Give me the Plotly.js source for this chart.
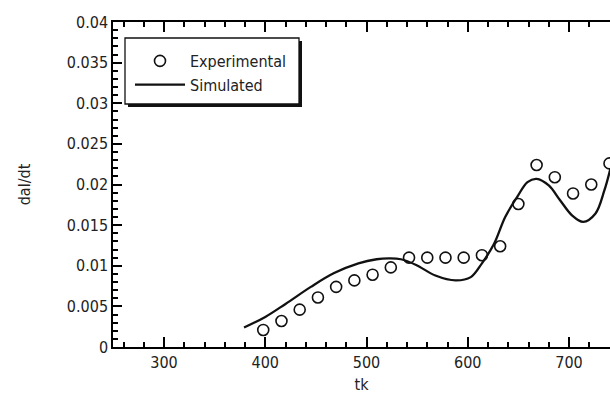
<!DOCTYPE html>
<html>
<head>
<meta charset="utf-8">
<script src="https://cdn.plot.ly/plotly-3.0.1.min.js"></script>
<style>
html,body{margin:0;padding:0;background:#fff;overflow:hidden;}
#chart{width:610px;height:398px;}
</style>
</head>
<body>
<div id="chart"></div>
<script>
// Experimental points
const expT = [398, 416, 434, 452, 470, 488, 506, 524, 542, 560, 578, 596, 614, 632, 650, 668, 686, 704, 722, 740];
const expRate = [0.0021, 0.0032, 0.0046, 0.0061, 0.0074, 0.0082, 0.0089, 0.0098, 0.0110, 0.0110, 0.0110, 0.0110, 0.0113, 0.0124, 0.0176, 0.0224, 0.0209, 0.0189, 0.0200, 0.0226];
// Simulated curve
const simT = [379, 400, 420, 445, 468, 492, 510, 522, 534, 549, 568, 588, 603, 614, 626, 637, 649, 659, 668, 680, 691, 703, 714, 726, 735, 741];
const simRate = [0.0024, 0.0037, 0.0053, 0.0074, 0.0091, 0.0103, 0.0108, 0.0109, 0.0108, 0.0101, 0.0088, 0.0082, 0.0086, 0.0103, 0.0127, 0.0160, 0.0185, 0.0203, 0.0207, 0.0199, 0.0181, 0.0162, 0.0154, 0.0164, 0.0193, 0.0220];

const FONT = '"Liberation Sans Narrow", "DejaVu Sans Condensed", "Liberation Sans", sans-serif';
const W = 610, H = 398;
const M = {l: 113, r: 0, t: 22, b: 51};
const pw = W - M.l - M.r, ph = H - M.t - M.b;
const px = v => (v - M.l) / pw;      // pixel -> paper x
const py = v => (H - M.b - v) / ph;  // pixel -> paper y

const traces = [
  {x: expT, y: expRate, type: 'scatter', mode: 'markers', name: 'Experimental',
   marker: {symbol: 'circle-open', size: 11, color: '#111', line: {width: 1.6, color: '#111'}}},
  {x: simT, y: simRate, type: 'scatter', mode: 'lines', name: 'Simulated',
   line: {shape: 'spline', smoothing: 1.0, color: '#111', width: 2.3}}
];

const layout = {
  width: W, height: H,
  margin: M,
  paper_bgcolor: '#fff', plot_bgcolor: '#fff',
  font: {family: FONT, color: '#222', size: 16},
  showlegend: true,
  legend: {x: px(130), y: py(44), xanchor: 'left', yanchor: 'top',
           bgcolor: 'rgba(0,0,0,0)', borderwidth: 0, itemwidth: 50,
           font: {family: FONT, size: 16, color: '#222'}, tracegroupgap: 0},
  xaxis: {range: [249.6, 740.5], dtick: 100, ticks: 'inside', ticklen: 10, tickwidth: 2, tickcolor: '#000',
          showgrid: false, zeroline: false, showline: true, linecolor: '#000', linewidth: 1.5, mirror: 'ticks',
          minor: {dtick: 20, ticks: 'inside', ticklen: 5, tickwidth: 1.5, tickcolor: '#000', showgrid: false},
          tickfont: {family: FONT, size: 16, color: '#222'},
          title: {text: 'tk', font: {family: FONT, size: 16, color: '#222'}, standoff: 8}},
  yaxis: {range: [0, 0.04], dtick: 0.005, ticks: 'inside', ticklen: 9, tickwidth: 2, tickcolor: '#000',
          showgrid: false, zeroline: false, showline: true, linecolor: '#000', linewidth: 1.5,
          minor: {dtick: 0.001, ticks: 'inside', ticklen: 5, tickwidth: 1.5, tickcolor: '#000', showgrid: false},
          tickfont: {family: FONT, size: 16, color: '#222'},
          title: {text: 'dal/dt', font: {family: FONT, size: 16, color: '#222'}, standoff: 32}},
  shapes: [
    {type: 'rect', xref: 'paper', yref: 'paper', x0: px(128), x1: px(302), y0: py(41), y1: py(107),
     fillcolor: '#111', line: {width: 0}},
    {type: 'rect', xref: 'paper', yref: 'paper', x0: px(125), x1: px(299), y0: py(38), y1: py(104),
     fillcolor: '#fff', line: {width: 1.3, color: '#111'}}
  ]
};

Plotly.newPlot('chart', traces, layout, {displayModeBar: false});
</script>
</body>
</html>
